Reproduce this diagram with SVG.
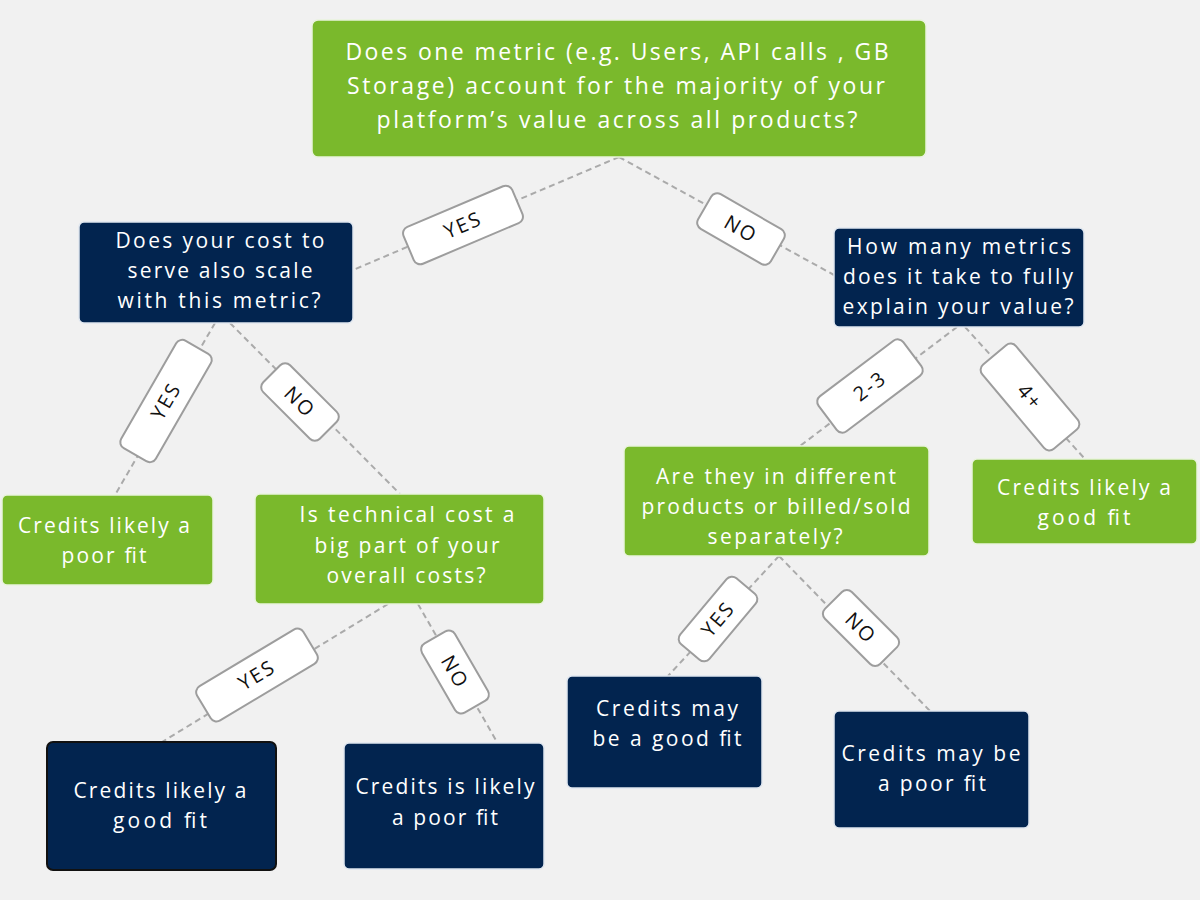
<svg xmlns="http://www.w3.org/2000/svg" width="1200" height="900" viewBox="0 0 1200 900">
<style>
.bg{fill:#f1f1f1}
.g{fill:#7ab92c;stroke:#e9f3dd;stroke-width:1.5}
.n{fill:#02244f;stroke:#dfe6ef;stroke-width:1.5}
.nb{fill:#02244f;stroke:#111;stroke-width:2}
.t{font-family:"Open Sans","Liberation Sans",sans-serif;fill:#fff;text-anchor:middle;font-size:21px}
.tb{font-size:23px}
.c line{stroke:#aaaaaa;stroke-width:2;stroke-dasharray:6 4;fill:none}
.lb rect{fill:#fff;stroke:#9d9d9d;stroke-width:2}
.lb text{font-family:"Open Sans","Liberation Sans",sans-serif;fill:#111;text-anchor:middle;font-size:20px;letter-spacing:2px}
</style>
<rect class="bg" x="0" y="0" width="1200" height="900"/>

<g id="connectors" class="c">
<line x1="619" y1="157" x2="353" y2="270"/>
<line x1="619" y1="157" x2="834" y2="275"/>
<line x1="215" y1="323" x2="115" y2="495"/>
<line x1="230" y1="323" x2="400" y2="494"/>
<line x1="388" y1="604" x2="162" y2="742"/>
<line x1="418" y1="604" x2="497" y2="742"/>
<line x1="957" y1="327" x2="800" y2="446"/>
<line x1="965" y1="327" x2="1085" y2="459"/>
<line x1="779" y1="556" x2="668" y2="676"/>
<line x1="779" y1="556" x2="930" y2="711"/>
</g>

<g id="edge-labels" class="lb">
<g transform="translate(463,225) rotate(-23)"><rect x="-59" y="-20" width="118" height="40" rx="7"/><text y="7">YES</text></g>
<g transform="translate(741,229) rotate(30)"><rect x="-42" y="-20" width="84" height="40" rx="7"/><text y="7">NO</text></g>
<g transform="translate(166,401) rotate(-60)"><rect x="-62" y="-20" width="124" height="40" rx="7"/><text y="7">YES</text></g>
<g transform="translate(300,402) rotate(45)"><rect x="-40" y="-19" width="80" height="38" rx="7"/><text y="7">NO</text></g>
<g transform="translate(257,675) rotate(-31)"><rect x="-62" y="-20" width="124" height="40" rx="7"/><text y="7">YES</text></g>
<g transform="translate(455,672) rotate(60)"><rect x="-40" y="-19" width="80" height="38" rx="7"/><text y="7">NO</text></g>
<g transform="translate(870,386) rotate(-37)"><rect x="-53" y="-22" width="106" height="44" rx="7"/><text y="7">2-3</text></g>
<g transform="translate(1030,397) rotate(50)"><rect x="-55" y="-22" width="110" height="44" rx="7"/><text y="7">4+</text></g>
<g transform="translate(718,619) rotate(-50)"><rect x="-43" y="-19" width="86" height="38" rx="7"/><text y="7">YES</text></g>
<g transform="translate(861,628) rotate(45)"><rect x="-39" y="-19" width="78" height="38" rx="7"/><text y="7">NO</text></g>
</g>

<g id="q-metric">
<rect class="g" x="312" y="20" width="614" height="137" rx="6"/>
<text class="t tb" x="617" y="60" textLength="543">Does one metric (e.g. Users, API calls , GB</text>
<text class="t tb" x="616" y="94" textLength="538">Storage) account for the majority of your</text>
<text class="t tb" x="617" y="128" textLength="481">platform’s value across all products?</text>
</g>

<g id="q-cost-scale">
<rect class="n" x="79" y="222" width="274" height="101" rx="5"/>
<text class="t" x="220" y="248" textLength="209">Does your cost to</text>
<text class="t" x="220" y="278" textLength="185">serve also scale</text>
<text class="t" x="219" y="308" textLength="203">with this metric?</text>
</g>

<g id="q-how-many">
<rect class="n" x="834" y="228" width="250" height="99" rx="5"/>
<text class="t" x="959" y="254" textLength="224">How many metrics</text>
<text class="t" x="958" y="284" textLength="230">does it take to fully</text>
<text class="t" x="958" y="314" textLength="231">explain your value?</text>
</g>

<g id="a-poor-fit-1">
<rect class="g" x="2" y="495" width="211" height="90" rx="5"/>
<text class="t" x="104" y="533" textLength="172">Credits likely a</text>
<text class="t" x="104" y="563" textLength="85">poor fit</text>
</g>

<g id="q-technical">
<rect class="g" x="255" y="494" width="289" height="110" rx="5"/>
<text class="t" x="407" y="522" textLength="215">Is technical cost a</text>
<text class="t" x="407" y="553" textLength="185">big part of your</text>
<text class="t" x="406" y="583" textLength="159">overall costs?</text>
</g>

<g id="a-good-fit-1">
<rect class="nb" x="47" y="742" width="229" height="128" rx="6"/>
<text class="t" x="160" y="798" textLength="173">Credits likely a</text>
<text class="t" x="160" y="828" textLength="94">good fit</text>
</g>

<g id="a-poor-fit-2">
<rect class="n" x="344" y="743" width="200" height="126" rx="5"/>
<text class="t" x="445" y="794" textLength="179">Credits is likely</text>
<text class="t" x="445" y="825" textLength="106">a poor fit</text>
</g>

<g id="q-different">
<rect class="g" x="624" y="446" width="305" height="110" rx="5"/>
<text class="t" x="776" y="484" textLength="240">Are they in different</text>
<text class="t" x="776" y="514" textLength="269">products or billed/sold</text>
<text class="t" x="775" y="544" textLength="135">separately?</text>
</g>

<g id="a-good-fit-2">
<rect class="g" x="972" y="459" width="225" height="85" rx="5"/>
<text class="t" x="1084" y="495" textLength="174">Credits likely a</text>
<text class="t" x="1084" y="525" textLength="93">good fit</text>
</g>

<g id="a-may-good">
<rect class="n" x="567" y="676" width="195" height="112" rx="5"/>
<text class="t" x="667" y="716" textLength="142">Credits may</text>
<text class="t" x="667" y="746" textLength="149">be a good fit</text>
</g>

<g id="a-may-poor">
<rect class="n" x="834" y="711" width="195" height="117" rx="5"/>
<text class="t" x="931" y="761" textLength="179">Credits may be</text>
<text class="t" x="932" y="791" textLength="108">a poor fit</text>
</g>
</svg>
